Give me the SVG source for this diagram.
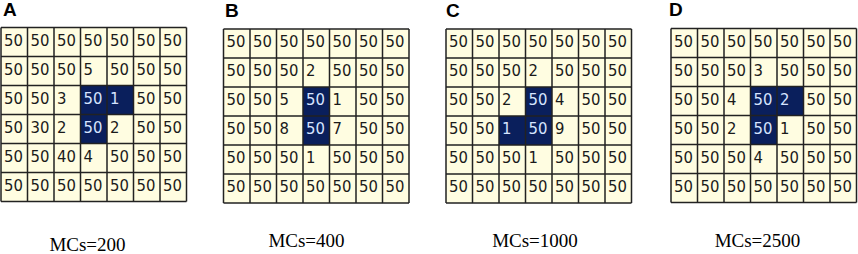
<svg xmlns="http://www.w3.org/2000/svg" xmlns:xlink="http://www.w3.org/1999/xlink" width="858" height="254" viewBox="0 0 858 254">
<style>
.bg{fill:#fffde1}
.dk{fill:#0a1f5c}
.ln{fill:none;stroke:#222;stroke-width:1.5}
.v{font-family:"DejaVu Sans Condensed","DejaVu Sans",sans-serif;font-stretch:condensed;font-size:16.5px;fill:#1a1a1a}
.w{fill:#d6e4ff}
.pl{font-family:"Liberation Sans",Arial,sans-serif;font-weight:bold;font-size:19px;fill:#000}
.mc{font-family:"Liberation Serif","Times New Roman",serif;font-size:19px;fill:#000;text-anchor:middle}
</style>
<defs>
<rect id="bgr" class="bg" x="0" y="0" width="185.5" height="174"/>
<path id="grd" class="ln" d="M0,0H185.5M0,29H185.5M0,58H185.5M0,87H185.5M0,116H185.5M0,145H185.5M0,174H185.5M0,0V174M26.5,0V174M53,0V174M79.5,0V174M106,0V174M132.5,0V174M159,0V174M185.5,0V174"/>
</defs>

<g id="panelA">
<text class="pl" x="3" y="16">A</text>
<use xlink:href="#bgr" x="1" y="27.5"/>
<rect class="dk" x="80.5" y="85.5" width="53" height="29"/>
<rect class="dk" x="80.5" y="114.5" width="26.5" height="29"/>
<use xlink:href="#grd" x="1" y="27.5"/>
<g class="v">
<text x="4" y="45.5">50</text><text x="30.5" y="45.5">50</text><text x="57" y="45.5">50</text><text x="83.5" y="45.5">50</text><text x="110" y="45.5">50</text><text x="136.5" y="45.5">50</text><text x="163" y="45.5">50</text>
<text x="4" y="74.5">50</text><text x="30.5" y="74.5">50</text><text x="57" y="74.5">50</text><text x="83.5" y="74.5">5</text><text x="110" y="74.5">50</text><text x="136.5" y="74.5">50</text><text x="163" y="74.5">50</text>
<text x="4" y="103.5">50</text><text x="30.5" y="103.5">50</text><text x="57" y="103.5">3</text><text class="w" x="83.5" y="103.5">50</text><text class="w" x="110" y="103.5">1</text><text x="136.5" y="103.5">50</text><text x="163" y="103.5">50</text>
<text x="4" y="132.5">50</text><text x="30.5" y="132.5">30</text><text x="57" y="132.5">2</text><text class="w" x="83.5" y="132.5">50</text><text x="110" y="132.5">2</text><text x="136.5" y="132.5">50</text><text x="163" y="132.5">50</text>
<text x="4" y="161.5">50</text><text x="30.5" y="161.5">50</text><text x="57" y="161.5">40</text><text x="83.5" y="161.5">4</text><text x="110" y="161.5">50</text><text x="136.5" y="161.5">50</text><text x="163" y="161.5">50</text>
<text x="4" y="190.5">50</text><text x="30.5" y="190.5">50</text><text x="57" y="190.5">50</text><text x="83.5" y="190.5">50</text><text x="110" y="190.5">50</text><text x="136.5" y="190.5">50</text><text x="163" y="190.5">50</text>
</g>
<text class="mc" x="87.5" y="251">MCs=200</text>
</g>

<g id="panelB">
<text class="pl" x="225" y="17">B</text>
<use xlink:href="#bgr" x="223.5" y="29"/>
<rect class="dk" x="303" y="87" width="26.5" height="58"/>
<use xlink:href="#grd" x="223.5" y="29"/>
<g class="v">
<text x="226.5" y="47">50</text><text x="253" y="47">50</text><text x="279.5" y="47">50</text><text x="306" y="47">50</text><text x="332.5" y="47">50</text><text x="359" y="47">50</text><text x="385.5" y="47">50</text>
<text x="226.5" y="76">50</text><text x="253" y="76">50</text><text x="279.5" y="76">50</text><text x="306" y="76">2</text><text x="332.5" y="76">50</text><text x="359" y="76">50</text><text x="385.5" y="76">50</text>
<text x="226.5" y="105">50</text><text x="253" y="105">50</text><text x="279.5" y="105">5</text><text class="w" x="306" y="105">50</text><text x="332.5" y="105">1</text><text x="359" y="105">50</text><text x="385.5" y="105">50</text>
<text x="226.5" y="134">50</text><text x="253" y="134">50</text><text x="279.5" y="134">8</text><text class="w" x="306" y="134">50</text><text x="332.5" y="134">7</text><text x="359" y="134">50</text><text x="385.5" y="134">50</text>
<text x="226.5" y="163">50</text><text x="253" y="163">50</text><text x="279.5" y="163">50</text><text x="306" y="163">1</text><text x="332.5" y="163">50</text><text x="359" y="163">50</text><text x="385.5" y="163">50</text>
<text x="226.5" y="192">50</text><text x="253" y="192">50</text><text x="279.5" y="192">50</text><text x="306" y="192">50</text><text x="332.5" y="192">50</text><text x="359" y="192">50</text><text x="385.5" y="192">50</text>
</g>
<text class="mc" x="306.5" y="247">MCs=400</text>
</g>

<g id="panelC">
<text class="pl" x="446" y="17">C</text>
<use xlink:href="#bgr" x="446" y="29"/>
<rect class="dk" x="525.5" y="87" width="26.5" height="58"/>
<rect class="dk" x="499" y="116" width="26.5" height="29"/>
<use xlink:href="#grd" x="446" y="29"/>
<g class="v">
<text x="449" y="47">50</text><text x="475.5" y="47">50</text><text x="502" y="47">50</text><text x="528.5" y="47">50</text><text x="555" y="47">50</text><text x="581.5" y="47">50</text><text x="608" y="47">50</text>
<text x="449" y="76">50</text><text x="475.5" y="76">50</text><text x="502" y="76">50</text><text x="528.5" y="76">2</text><text x="555" y="76">50</text><text x="581.5" y="76">50</text><text x="608" y="76">50</text>
<text x="449" y="105">50</text><text x="475.5" y="105">50</text><text x="502" y="105">2</text><text class="w" x="528.5" y="105">50</text><text x="555" y="105">4</text><text x="581.5" y="105">50</text><text x="608" y="105">50</text>
<text x="449" y="134">50</text><text x="475.5" y="134">50</text><text class="w" x="502" y="134">1</text><text class="w" x="528.5" y="134">50</text><text x="555" y="134">9</text><text x="581.5" y="134">50</text><text x="608" y="134">50</text>
<text x="449" y="163">50</text><text x="475.5" y="163">50</text><text x="502" y="163">50</text><text x="528.5" y="163">1</text><text x="555" y="163">50</text><text x="581.5" y="163">50</text><text x="608" y="163">50</text>
<text x="449" y="192">50</text><text x="475.5" y="192">50</text><text x="502" y="192">50</text><text x="528.5" y="192">50</text><text x="555" y="192">50</text><text x="581.5" y="192">50</text><text x="608" y="192">50</text>
</g>
<text class="mc" x="535" y="247">MCs=1000</text>
</g>

<g id="panelD">
<text class="pl" x="669" y="16">D</text>
<use xlink:href="#bgr" x="671" y="28.5"/>
<rect class="dk" x="750.5" y="86.5" width="53" height="29"/>
<rect class="dk" x="750.5" y="115.5" width="26.5" height="29"/>
<use xlink:href="#grd" x="671" y="28.5"/>
<g class="v">
<text x="674" y="46.5">50</text><text x="700.5" y="46.5">50</text><text x="727" y="46.5">50</text><text x="753.5" y="46.5">50</text><text x="780" y="46.5">50</text><text x="806.5" y="46.5">50</text><text x="833" y="46.5">50</text>
<text x="674" y="75.5">50</text><text x="700.5" y="75.5">50</text><text x="727" y="75.5">50</text><text x="753.5" y="75.5">3</text><text x="780" y="75.5">50</text><text x="806.5" y="75.5">50</text><text x="833" y="75.5">50</text>
<text x="674" y="104.5">50</text><text x="700.5" y="104.5">50</text><text x="727" y="104.5">4</text><text class="w" x="753.5" y="104.5">50</text><text class="w" x="780" y="104.5">2</text><text x="806.5" y="104.5">50</text><text x="833" y="104.5">50</text>
<text x="674" y="133.5">50</text><text x="700.5" y="133.5">50</text><text x="727" y="133.5">2</text><text class="w" x="753.5" y="133.5">50</text><text x="780" y="133.5">1</text><text x="806.5" y="133.5">50</text><text x="833" y="133.5">50</text>
<text x="674" y="162.5">50</text><text x="700.5" y="162.5">50</text><text x="727" y="162.5">50</text><text x="753.5" y="162.5">4</text><text x="780" y="162.5">50</text><text x="806.5" y="162.5">50</text><text x="833" y="162.5">50</text>
<text x="674" y="191.5">50</text><text x="700.5" y="191.5">50</text><text x="727" y="191.5">50</text><text x="753.5" y="191.5">50</text><text x="780" y="191.5">50</text><text x="806.5" y="191.5">50</text><text x="833" y="191.5">50</text>
</g>
<text class="mc" x="757.5" y="247">MCs=2500</text>
</g>
</svg>
